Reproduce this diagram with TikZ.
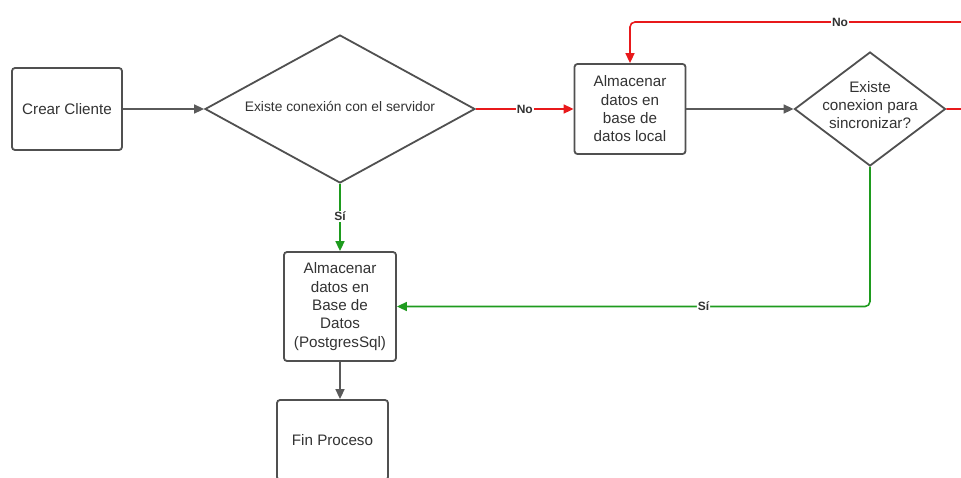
\documentclass[tikz,border=0pt]{standalone}
\usepackage{fontspec}
\setmainfont{Liberation Sans}
\usetikzlibrary{shapes.geometric,arrows.meta}
\definecolor{edgegray}{HTML}{5A5A5A}
\definecolor{boxgray}{HTML}{505050}
\definecolor{lred}{HTML}{E8191B}
\definecolor{lgreen}{HTML}{1E9B1E}
\tikzset{
  procbox/.style={draw=boxgray, line width=1.8pt, rounded corners=3pt, fill=white, align=center, font=\fontsize{15.2}{18.3}\selectfont, text=black!80, inner sep=2pt},
  decision/.style={draw=boxgray, line width=1.8pt, diamond, fill=white, align=center, inner sep=0pt, text=black!80},
  flow/.style={line width=1.6pt, -{Triangle[length=10pt,width=9pt]}},
  grayflow/.style={flow, draw=edgegray, color=edgegray},
  redflow/.style={flow, draw=lred, color=lred},
  greenflow/.style={flow, draw=lgreen, color=lgreen},
  lbl/.style={fill=white, font=\bfseries\fontsize{12}{13}\selectfont, text=black!80, inner sep=1pt}
}
\begin{document}
\begin{tikzpicture}[x=1pt,y=-1pt]
\useasboundingbox (0,0) rectangle (961,477);
\clip (0,0) rectangle (961,477);
\node[procbox, minimum width=110pt, minimum height=82pt] (c) at (67,109) {Crear Cliente};
\node[decision, minimum width=270pt, minimum height=148pt] (d1) at (340,109) {};
\node[text=black!80, font=\fontsize{13.8}{16}\selectfont] at (340,106) {Existe conexión con el servidor};
\node[procbox, minimum width=111pt, minimum height=90pt] (b2) at (630,109) {Almacenar\\datos en\\base de\\datos local};
\node[decision, minimum width=151pt, minimum height=114pt] (d2) at (870,109) {};
\node[align=center, text=black!80, font=\fontsize{15.2}{18.3}\selectfont] at (870,105) {Existe\\conexion para\\sincronizar?};
\node[procbox, minimum width=112pt, minimum height=109pt] (b3) at (340,306.5) {Almacenar\\datos en\\Base de\\Datos\\(PostgresSql)};
\node[procbox, minimum width=111pt, minimum height=80pt] (fin) at (332.5,440) {Fin Proceso};
\coordinate (r1) at (980,109);
\coordinate (r2) at (980,22);
\coordinate (r3) at (630,22);
\draw[grayflow] (c.east) -- (d1.west);
\draw[redflow] (d1.east) -- node[lbl, pos=0.5]{No} (b2.west);
\draw[grayflow] (b2.east) -- (d2.west);
\draw[greenflow] (d1.south) -- node[lbl, pos=0.48]{Sí} (b3.north);
\draw[grayflow] (b3.south) -- (b3.south |- fin.north);
\draw[redflow, rounded corners=5pt] (d2.east) -- (r1) -- (r2) -- node[lbl, pos=0.4]{No} (r3) -- (b2.north);
\draw[greenflow, rounded corners=5pt] (d2.south) |- node[lbl, pos=0.676]{Sí} (b3.east);
\end{tikzpicture}
\end{document}
